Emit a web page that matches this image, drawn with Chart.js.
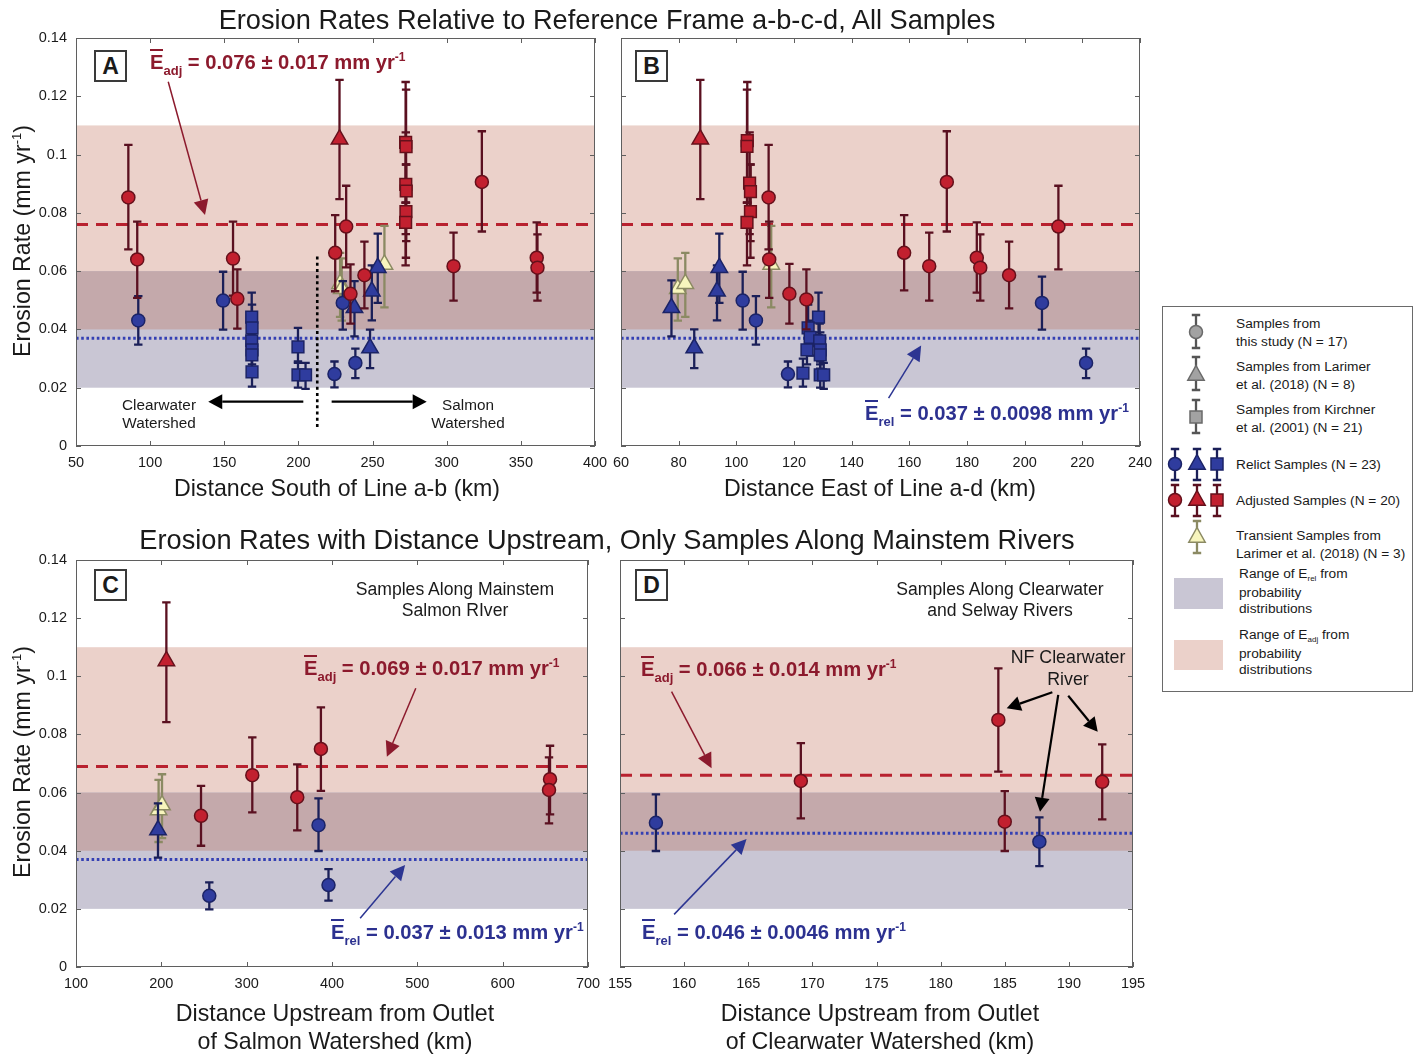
<!DOCTYPE html>
<html><head><meta charset="utf-8">
<script src="https://cdn.jsdelivr.net/npm/chart.js@4.4.1/dist/chart.umd.min.js"></script>
<style>
html,body{margin:0;padding:0;background:#fff;}
body{width:1423px;height:1057px;position:relative;overflow:hidden;font-family:"Liberation Sans",Arial,Helvetica,sans-serif;color:#1a1a1a;}
canvas{position:absolute;}
.t{position:absolute;white-space:nowrap;transform:translate(-50%,-50%);line-height:1;}
.c{position:absolute;white-space:nowrap;transform:translateX(-50%);text-align:center;}
.ann{position:absolute;white-space:nowrap;font-weight:bold;font-size:20.2px;line-height:20px;}
.ann.red{color:#8c1a2d;}
.ann.blue{color:#2c3190;}
.eb{border-top:2.5px solid currentColor;}
.sb{position:relative;top:6px;font-size:13px;}
.sp{position:relative;top:-8px;font-size:12px;}
.sp2{position:relative;top:-9px;font-size:13px;}
.box{position:absolute;width:33px;height:32px;box-sizing:border-box;border:2px solid #3a3a3a;background:#fff;font-weight:bold;font-size:23px;line-height:28px;text-align:center;}
.legend{position:absolute;left:1162px;top:306px;width:251px;height:386px;box-sizing:border-box;border:1px solid #6a6a6a;background:#fff;}
.lg{position:absolute;left:1236px;font-size:13.7px;line-height:17.5px;white-space:nowrap;color:#1a1a1a;}
.lg2{position:absolute;left:1239px;font-size:13.7px;line-height:16.5px;white-space:nowrap;color:#1a1a1a;}
.ls{position:relative;top:3px;font-size:8px;}
svg{position:absolute;left:0;top:0;}
</style></head><body>
<div id="charts"></div>
<script>
// ---------------- DATA ----------------
// shared y axis and probability ranges
const yRange = [0, 0.14];
const yStep = 0.02;
const relRange = [0.02, 0.06];   // range of E_rel
const adjRange = [0.04, 0.11];   // range of E_adj

// Each row: [x (km), erosion rate, lower error, upper error]
// ---- Panel A : distance south of line a-b ----
const A_xRange = [50, 400];
const A_xStep = 50;
const A_means = [0.076, 0.037]; // [E_adj, E_rel]
const A_adjCircles = [[85.3,0.0853,0.0675,0.1033],[91.3,0.0640,0.0508,0.0770],[155.9,0.0643,0.0516,0.0770],[158.8,0.0505,0.0403,0.0606],[224.8,0.0663,0.0531,0.0792],[232.2,0.0753,0.0613,0.0893],[235.1,0.0522,0.0420,0.0623],[244.5,0.0586,0.0472,0.0701],[304.6,0.0617,0.0499,0.0732],[323.7,0.0906,0.0736,0.1080],[360.7,0.0646,0.0526,0.0767],[361.2,0.0612,0.0499,0.0726]];
const A_adjTriangles = [[227.7,0.1053,0.0847,0.1256]];
const A_adjSquares = [[272.3,0.1042,0.0835,0.1249],[272.6,0.1027,0.0835,0.1223],[272.4,0.0898,0.0727,0.1076],[272.7,0.0875,0.0703,0.0966],[272.5,0.0804,0.0646,0.0966],[272.3,0.0767,0.0620,0.0835]];
const A_relCircles = [[92.0,0.0431,0.0348,0.0514],[149.2,0.0499,0.0399,0.0598],[224.3,0.0247,0.0201,0.0290],[229.9,0.0491,0.0399,0.0566],[238.4,0.0285,0.0233,0.0334]];
const A_relTriangles = [[237.8,0.0474,0.0376,0.0566],[249.5,0.0531,0.0431,0.0620],[253.5,0.0612,0.0491,0.0729],[248.3,0.0336,0.0267,0.0399]];
const A_relSquares = [[168.5,0.0442,0.0380,0.0526],[168.7,0.0405,0.0345,0.0485],[168.5,0.0361,0.0300,0.0420],[168.7,0.0330,0.0280,0.0390],[168.6,0.0313,0.0265,0.0365],[168.7,0.0254,0.0204,0.0300],[199.7,0.0340,0.0285,0.0405],[199.7,0.0244,0.0200,0.0290],[204.8,0.0244,0.0196,0.0285]];
const A_transient = [[228.1,0.0557,0.0443,0.0663],[229.2,0.0540,0.0430,0.0644],[258.0,0.0623,0.0476,0.0755]];
// annotation arrows [x1,y1,x2,y2,kind] and watershed divider [x, y0, y1]
const A_arrows = [[112.2,0.125,137.0,0.0793,'red'],[203.3,0.0152,139.2,0.0152,'black'],[222.4,0.0152,286.5,0.0152,'black']];
const A_divider = [212.7, 0.0055, 0.065];

// ---- Panel B : distance east of line a-d ----
const B_xRange = [60, 240];
const B_xStep = 20;
const B_means = [0.076, 0.037];
const B_adjCircles = [[111.2,0.0853,0.0675,0.1033],[111.4,0.0640,0.0508,0.0770],[118.4,0.0522,0.0420,0.0625],[124.3,0.0503,0.0400,0.0606],[158.2,0.0663,0.0534,0.0792],[166.9,0.0617,0.0499,0.0732],[173.0,0.0906,0.0736,0.1080],[183.4,0.0646,0.0526,0.0767],[184.6,0.0612,0.0499,0.0726],[194.6,0.0586,0.0472,0.0701],[211.7,0.0753,0.0606,0.0893]];
const B_adjTriangles = [[87.5,0.1053,0.0847,0.1256]];
const B_adjSquares = [[103.8,0.1048,0.0835,0.1249],[103.7,0.1028,0.0835,0.1223],[104.6,0.0902,0.0727,0.1076],[104.9,0.0873,0.0703,0.0966],[104.9,0.0804,0.0646,0.0966],[103.7,0.0767,0.0620,0.0835]];
const B_relCircles = [[102.2,0.0499,0.0399,0.0598],[106.8,0.0431,0.0348,0.0514],[117.9,0.0247,0.0201,0.0290],[206.0,0.0491,0.0399,0.0581],[221.3,0.0285,0.0233,0.0334]];
const B_relTriangles = [[77.5,0.0474,0.0376,0.0568],[85.4,0.0336,0.0267,0.0400],[93.3,0.0531,0.0431,0.0620],[94.1,0.0612,0.0491,0.0729]];
const B_relSquares = [[128.5,0.0442,0.0380,0.0526],[124.9,0.0405,0.0345,0.0485],[125.6,0.0373,0.0310,0.0430],[128.9,0.0361,0.0300,0.0420],[124.5,0.0330,0.0280,0.0390],[129.1,0.0330,0.0280,0.0390],[129.1,0.0313,0.0265,0.0365],[123.1,0.0250,0.0204,0.0300],[129.1,0.0244,0.0200,0.0290],[130.3,0.0244,0.0196,0.0285]];
const B_transient = [[79.7,0.0540,0.0430,0.0644],[82.3,0.0557,0.0443,0.0663],[112.1,0.0623,0.0476,0.0755]];
const B_arrows = [[152.8,0.0164,164.1,0.0345,'blue']];

// ---- Panel C : distance upstream, Salmon ----
const C_xRange = [100, 700];
const C_xStep = 100;
const C_means = [0.069, 0.037];
const C_adjCircles = [[246.5,0.0520,0.0417,0.0623],[306.6,0.0660,0.0532,0.0790],[359.3,0.0584,0.0470,0.0697],[387.0,0.0750,0.0606,0.0893],[655.5,0.0646,0.0525,0.0761],[654.3,0.0609,0.0494,0.0721]];
const C_adjTriangles = [[205.9,0.1053,0.0842,0.1254]];
const C_relCircles = [[256.2,0.0245,0.0198,0.0291],[384.2,0.0488,0.0399,0.0580],[395.9,0.0282,0.0228,0.0337]];
const C_relTriangles = [[196.1,0.0471,0.0376,0.0563]];
const C_transient = [[196.8,0.0540,0.0430,0.0644],[200.8,0.0557,0.0443,0.0663]];
const C_arrows = [[498.2,0.0959,464.3,0.0723,'red'],[433.0,0.0168,485.7,0.0351,'blue']];

// ---- Panel D : distance upstream, Clearwater ----
const D_xRange = [155, 195];
const D_xStep = 5;
const D_means = [0.066, 0.046];
const D_adjCircles = [[169.1,0.0640,0.0511,0.0770],[184.5,0.0850,0.0672,0.1027],[185.0,0.0500,0.0399,0.0605],[192.6,0.0637,0.0508,0.0766]];
const D_relCircles = [[157.8,0.0496,0.0399,0.0594],[187.7,0.0431,0.0347,0.0515]];
const D_arrows = [[159.02,0.0947,162.14,0.0684,'red'],[159.22,0.0181,164.87,0.0440,'blue'],[188.71,0.0945,185.15,0.0890,'black'],[189.17,0.0936,187.75,0.0534,'black'],[189.95,0.0933,192.25,0.0809,'black']];

// ---------------- STYLE ----------------
const FONT = '"Liberation Sans", Arial, Helvetica, sans-serif';
const COL = {
  redFill:'#c2202f', redEdge:'#65101b', redErr:'#5a1020',
  blueFill:'#2f3c9e', blueEdge:'#1b2366', blueErr:'#1a1f58',
  yelFill:'#f7f5bd', yelEdge:'#8b8a63', yelErr:'#8b8a63',
  pink:'#ebd1ca', lav:'#c9c6d4', overlap:'#c4a9ab',
  redLine:'#b8212f', blueLine:'#3440b3',
  arrow:{red:'#8c1a2d', blue:'#2c3592', black:'#000'}
};
const MARK = {
  circle:{pointStyle:'circle', pointRadius:6.5},
  triangle:{pointStyle:'triangle', pointRadius:9.5},
  square:{pointStyle:'rect', pointRadius:8.3}
};
const FAM = {
  adj:{fill:COL.redFill, edge:COL.redEdge, err:COL.redErr},
  rel:{fill:COL.blueFill, edge:COL.blueEdge, err:COL.blueErr},
  tr:{fill:COL.yelFill, edge:COL.yelEdge, err:COL.yelErr}
};

function makeDs(rows, fam, shape){
  const f = FAM[fam], m = MARK[shape];
  return {
    data: rows.map(r => ({x:r[0], y:r[1], lo:r[2], hi:r[3]})),
    pointStyle:m.pointStyle, pointRadius:m.pointRadius, pointHoverRadius:m.pointRadius,
    backgroundColor:f.fill, borderColor:f.edge, borderWidth:1.5, pointBorderWidth:1.5,
    errColor:f.err, showLine:false
  };
}

function drawArrow(ctx,x1,y1,x2,y2,kind){
  const color = COL.arrow[kind];
  const lw = kind==='black'?2.2:1.5, hl = kind==='black'?14:15, hw = 7.5;
  const ang = Math.atan2(y2-y1, x2-x1);
  const bx = x2 - hl*Math.cos(ang), by = y2 - hl*Math.sin(ang);
  ctx.save();
  ctx.strokeStyle = color; ctx.fillStyle = color; ctx.lineWidth = lw;
  ctx.beginPath(); ctx.moveTo(x1,y1); ctx.lineTo(bx,by); ctx.stroke();
  ctx.beginPath(); ctx.moveTo(x2,y2);
  ctx.lineTo(bx + hw*Math.sin(ang), by - hw*Math.cos(ang));
  ctx.lineTo(bx - hw*Math.sin(ang), by + hw*Math.cos(ang));
  ctx.closePath(); ctx.fill();
  ctx.restore();
}

function panelPlugin(p){
  return {
    id:'panel'+p.id,
    beforeDatasetsDraw(chart){
      const {ctx, chartArea:a, scales:{x, y}} = chart;
      ctx.save();
      ctx.beginPath(); ctx.rect(a.left, a.top, a.width, a.height); ctx.clip();
      const band = (lo, hi, c) => {
        const t = y.getPixelForValue(hi), b = y.getPixelForValue(lo);
        ctx.fillStyle = c; ctx.fillRect(a.left, t, a.width, b - t);
      };
      band(adjRange[0], adjRange[1], COL.pink);
      band(relRange[0], relRange[1], COL.lav);
      band(Math.max(adjRange[0], relRange[0]), Math.min(adjRange[1], relRange[1]), COL.overlap);
      // mean lines
      let py = y.getPixelForValue(p.means[0]);
      ctx.strokeStyle = COL.redLine; ctx.lineWidth = 3; ctx.setLineDash([12, 8]);
      ctx.beginPath(); ctx.moveTo(a.left, py); ctx.lineTo(a.right, py); ctx.stroke();
      py = y.getPixelForValue(p.means[1]);
      ctx.strokeStyle = COL.blueLine; ctx.lineWidth = 3; ctx.setLineDash([2.6, 2.6]);
      ctx.beginPath(); ctx.moveTo(a.left, py); ctx.lineTo(a.right, py); ctx.stroke();
      ctx.restore();
    },
    beforeDatasetDraw(chart, args){
      const ds = chart.data.datasets[args.index];
      const {ctx, scales:{x, y}} = chart;
      ctx.save();
      ctx.strokeStyle = ds.errColor; ctx.lineWidth = 2.3;
      ds.data.forEach(d => {
        const px = x.getPixelForValue(d.x), pl = y.getPixelForValue(d.lo), ph = y.getPixelForValue(d.hi);
        ctx.beginPath();
        ctx.moveTo(px, pl); ctx.lineTo(px, ph);
        ctx.moveTo(px-4.2, pl); ctx.lineTo(px+4.2, pl);
        ctx.moveTo(px-4.2, ph); ctx.lineTo(px+4.2, ph);
        ctx.stroke();
      });
      ctx.restore();
    },
    afterDatasetsDraw(chart){
      const {ctx, scales:{x, y}} = chart;
      if (p.divider){
        const dx = x.getPixelForValue(p.divider[0]);
        ctx.save(); ctx.strokeStyle = '#000'; ctx.lineWidth = 2.6; ctx.setLineDash([3, 3.2]);
        ctx.beginPath(); ctx.moveTo(dx, y.getPixelForValue(p.divider[2])); ctx.lineTo(dx, y.getPixelForValue(p.divider[1])); ctx.stroke();
        ctx.restore();
      }
      (p.arrows||[]).forEach(ar => drawArrow(ctx, x.getPixelForValue(ar[0]), y.getPixelForValue(ar[1]), x.getPixelForValue(ar[2]), y.getPixelForValue(ar[3]), ar[4]));
    },
    afterDraw(chart){
      const {ctx, chartArea:a, scales:{x, y}} = chart;
      ctx.save();
      ctx.strokeStyle = '#5f5f5f'; ctx.lineWidth = 1;
      ctx.strokeRect(a.left+0.5, a.top+0.5, a.width-1, a.height-1);
      ctx.beginPath();
      x.ticks.forEach(t => { const px = Math.round(x.getPixelForValue(t.value))+0.5;
        ctx.moveTo(px, a.bottom); ctx.lineTo(px, a.bottom-5); ctx.moveTo(px, a.top); ctx.lineTo(px, a.top+5); });
      y.ticks.forEach(t => { const py = Math.round(y.getPixelForValue(t.value))+0.5;
        ctx.moveTo(a.left, py); ctx.lineTo(a.left+5, py); ctx.moveTo(a.right, py); ctx.lineTo(a.right-5, py); });
      ctx.stroke();
      ctx.restore();
    }
  };
}

function buildPanel(p){
  const [L,T,R,B] = p.area;
  const W = (R-L)+75+30, H = (B-T)+12+40;
  const cv = document.createElement('canvas');
  cv.width = W; cv.height = H;
  cv.style.left = (L-75)+'px'; cv.style.top = (T-12)+'px';
  cv.style.width = W+'px'; cv.style.height = H+'px';
  document.getElementById('charts').appendChild(cv);
  new Chart(cv, {
    type:'scatter',
    data:{datasets:p.datasets},
    options:{
      responsive:false, animation:false, events:[],
      layout:{padding:{left:0, top:12, right:30, bottom:0}},
      plugins:{legend:{display:false}, tooltip:{enabled:false}},
      scales:{
        x:{type:'linear', min:p.xRange[0], max:p.xRange[1],
           ticks:{stepSize:p.xStep, autoSkip:false, maxRotation:0, padding:8, color:'#1a1a1a', font:{family:FONT, size:14.5}, callback:v=>v},
           grid:{display:false, drawTicks:false}, border:{display:false},
           afterFit(s){ s.height = 40; s.paddingLeft = 0; s.paddingRight = 0; }},
        y:{type:'linear', min:yRange[0], max:yRange[1],
           ticks:{stepSize:yStep, display:p.showY, padding:9, color:'#1a1a1a', font:{family:FONT, size:14.5}, callback:v=>String(+v.toFixed(2))},
           grid:{display:false, drawTicks:false}, border:{display:false},
           afterFit(s){ s.width = 75; s.paddingTop = 0; s.paddingBottom = 0; }}
      }
    },
    plugins:[panelPlugin(p)]
  });
}

// datasets listed top-most first (Chart.js paints the first dataset last)
buildPanel({id:'A', area:[76,38,595,446], xRange:A_xRange, xStep:A_xStep, showY:true, means:A_means, arrows:A_arrows, divider:A_divider,
  datasets:[makeDs(A_adjCircles,'adj','circle'), makeDs(A_adjTriangles,'adj','triangle'), makeDs(A_adjSquares,'adj','square'),
            makeDs(A_relCircles,'rel','circle'), makeDs(A_relTriangles,'rel','triangle'), makeDs(A_relSquares,'rel','square'),
            makeDs(A_transient,'tr','triangle')]});
buildPanel({id:'B', area:[621,38,1140,446], xRange:B_xRange, xStep:B_xStep, showY:false, means:B_means, arrows:B_arrows,
  datasets:[makeDs(B_adjCircles,'adj','circle'), makeDs(B_adjTriangles,'adj','triangle'), makeDs(B_adjSquares,'adj','square'),
            makeDs(B_relCircles,'rel','circle'), makeDs(B_relTriangles,'rel','triangle'), makeDs(B_relSquares,'rel','square'),
            makeDs(B_transient,'tr','triangle')]});
buildPanel({id:'C', area:[76,560,588,967], xRange:C_xRange, xStep:C_xStep, showY:true, means:C_means, arrows:C_arrows,
  datasets:[makeDs(C_adjCircles,'adj','circle'), makeDs(C_adjTriangles,'adj','triangle'),
            makeDs(C_relCircles,'rel','circle'), makeDs(C_relTriangles,'rel','triangle'),
            makeDs(C_transient,'tr','triangle')]});
buildPanel({id:'D', area:[620,560,1133,967], xRange:D_xRange, xStep:D_xStep, showY:false, means:D_means, arrows:D_arrows,
  datasets:[makeDs(D_adjCircles,'adj','circle'), makeDs(D_relCircles,'rel','circle')]});
</script>

<!-- titles -->
<div class="t" style="left:607px;top:20px;font-size:27.2px">Erosion Rates Relative to Reference Frame a-b-c-d, All Samples</div>
<div class="t" style="left:607px;top:540px;font-size:27.2px">Erosion Rates with Distance Upstream, Only Samples Along Mainstem Rivers</div>
<!-- axis titles -->
<div class="t" style="left:337px;top:489px;font-size:23.2px">Distance South of Line a-b (km)</div>
<div class="t" style="left:880px;top:489px;font-size:23.2px">Distance East of Line a-d (km)</div>
<div class="t" style="left:335px;top:1014px;font-size:23.2px">Distance Upstream from Outlet</div>
<div class="t" style="left:335px;top:1042px;font-size:23.2px">of Salmon Watershed (km)</div>
<div class="t" style="left:880px;top:1014px;font-size:23.2px">Distance Upstream from Outlet</div>
<div class="t" style="left:880px;top:1042px;font-size:23.2px">of Clearwater Watershed (km)</div>
<div class="t" style="left:23px;top:241px;font-size:23.2px;transform:translate(-50%,-50%) rotate(-90deg)">Erosion Rate (mm yr<span class="sp2">-1</span>)</div>
<div class="t" style="left:23px;top:762px;font-size:23.2px;transform:translate(-50%,-50%) rotate(-90deg)">Erosion Rate (mm yr<span class="sp2">-1</span>)</div>

<!-- panel letters -->
<div class="box" style="left:94px;top:50px">A</div>
<div class="box" style="left:635px;top:50px">B</div>
<div class="box" style="left:94px;top:569px">C</div>
<div class="box" style="left:635px;top:569px">D</div>

<!-- annotations -->
<div class="ann red" style="left:150px;top:52px"><span class="eb">E</span><span class="sb">adj</span> = 0.076 ± 0.017 mm yr<span class="sp">-1</span></div>
<div class="ann blue" style="left:865px;top:403px"><span class="eb">E</span><span class="sb">rel</span> = 0.037 ± 0.0098 mm yr<span class="sp">-1</span></div>
<div class="ann red" style="left:304px;top:658px"><span class="eb">E</span><span class="sb">adj</span> = 0.069 ± 0.017 mm yr<span class="sp">-1</span></div>
<div class="ann blue" style="left:331px;top:922px"><span class="eb">E</span><span class="sb">rel</span> = 0.037 ± 0.013 mm yr<span class="sp">-1</span></div>
<div class="ann red" style="left:641px;top:659px"><span class="eb">E</span><span class="sb">adj</span> = 0.066 ± 0.014 mm yr<span class="sp">-1</span></div>
<div class="ann blue" style="left:642px;top:922px"><span class="eb">E</span><span class="sb">rel</span> = 0.046 ± 0.0046 mm yr<span class="sp">-1</span></div>

<div class="c" style="left:159px;top:396px;font-size:15.3px;line-height:18px">Clearwater<br>Watershed</div>
<div class="c" style="left:468px;top:396px;font-size:15.3px;line-height:18px">Salmon<br>Watershed</div>
<div class="c" style="left:455px;top:579px;font-size:17.6px;line-height:21px">Samples Along Mainstem<br>Salmon RIver</div>
<div class="c" style="left:1000px;top:579px;font-size:17.6px;line-height:21px">Samples Along Clearwater<br>and Selway Rivers</div>
<div class="c" style="left:1068px;top:647px;font-size:17.8px;line-height:21.7px">NF Clearwater<br>River</div>

<!-- legend -->
<div class="legend"></div>
<svg width="1423" height="1057" viewBox="0 0 1423 1057">
  <g stroke-width="2.3" fill="none">
    <path d="M1196 315V348M1191.8 315H1200.2M1191.8 348H1200.2" stroke="#555"/>
    <path d="M1196 357V390M1191.8 357H1200.2M1191.8 390H1200.2" stroke="#555"/>
    <path d="M1196 400V433M1191.8 400H1200.2M1191.8 433H1200.2" stroke="#555"/>
    <path d="M1175 449V480M1170.8 449H1179.2M1170.8 480H1179.2M1197 449V480M1192.8 449H1201.2M1192.8 480H1201.2M1217 449V480M1212.8 449H1221.2M1212.8 480H1221.2" stroke="#1a1f58"/>
    <path d="M1175 485V516M1170.8 485H1179.2M1170.8 516H1179.2M1197 485V516M1192.8 485H1201.2M1192.8 516H1201.2M1217 485V516M1212.8 485H1221.2M1212.8 516H1221.2" stroke="#5a1020"/>
    <path d="M1197 521V553M1192.8 521H1201.2M1192.8 553H1201.2" stroke="#8b8a63"/>
  </g>
  <g stroke-width="1.5">
    <circle cx="1196" cy="332" r="6.5" fill="#a2a2a2" stroke="#6a6a6a"/>
    <path d="M1196 365.5L1204.2 380.25L1187.8 380.25Z" fill="#a2a2a2" stroke="#6a6a6a"/>
    <rect x="1190" y="411" width="12" height="12" fill="#a2a2a2" stroke="#6a6a6a"/>
    <circle cx="1175" cy="464" r="6.5" fill="#2f3c9e" stroke="#1b2366"/>
    <path d="M1197 454.5L1205.2 469.25L1188.8 469.25Z" fill="#2f3c9e" stroke="#1b2366"/>
    <rect x="1211" y="458" width="12" height="12" fill="#2f3c9e" stroke="#1b2366"/>
    <circle cx="1175" cy="500" r="6.5" fill="#c2202f" stroke="#65101b"/>
    <path d="M1197 490.5L1205.2 505.25L1188.8 505.25Z" fill="#c2202f" stroke="#65101b"/>
    <rect x="1211" y="494" width="12" height="12" fill="#c2202f" stroke="#65101b"/>
    <path d="M1197 527.5L1205.2 542.25L1188.8 542.25Z" fill="#f7f5bd" stroke="#8b8a63"/>
  </g>
  <rect x="1174" y="578" width="49" height="31" fill="#c9c6d4"/>
  <rect x="1174" y="640" width="49" height="30" fill="#ebd1ca"/>
</svg>
<div class="lg" style="top:315px">Samples from<br>this study (N = 17)</div>
<div class="lg" style="top:358px">Samples from Larimer<br>et al. (2018) (N = 8)</div>
<div class="lg" style="top:401px">Samples from Kirchner<br>et al. (2001) (N = 21)</div>
<div class="lg" style="top:456px">Relict Samples (N = 23)</div>
<div class="lg" style="top:492px">Adjusted Samples (N = 20)</div>
<div class="lg" style="top:527px">Transient Samples from<br>Larimer et al. (2018) (N = 3)</div>
<div class="lg2" style="top:566px">Range of E<span class="ls">rel</span> from<br>probability<br>distributions</div>
<div class="lg2" style="top:627px">Range of E<span class="ls">adj</span> from<br>probability<br>distributions</div>
</body></html>
